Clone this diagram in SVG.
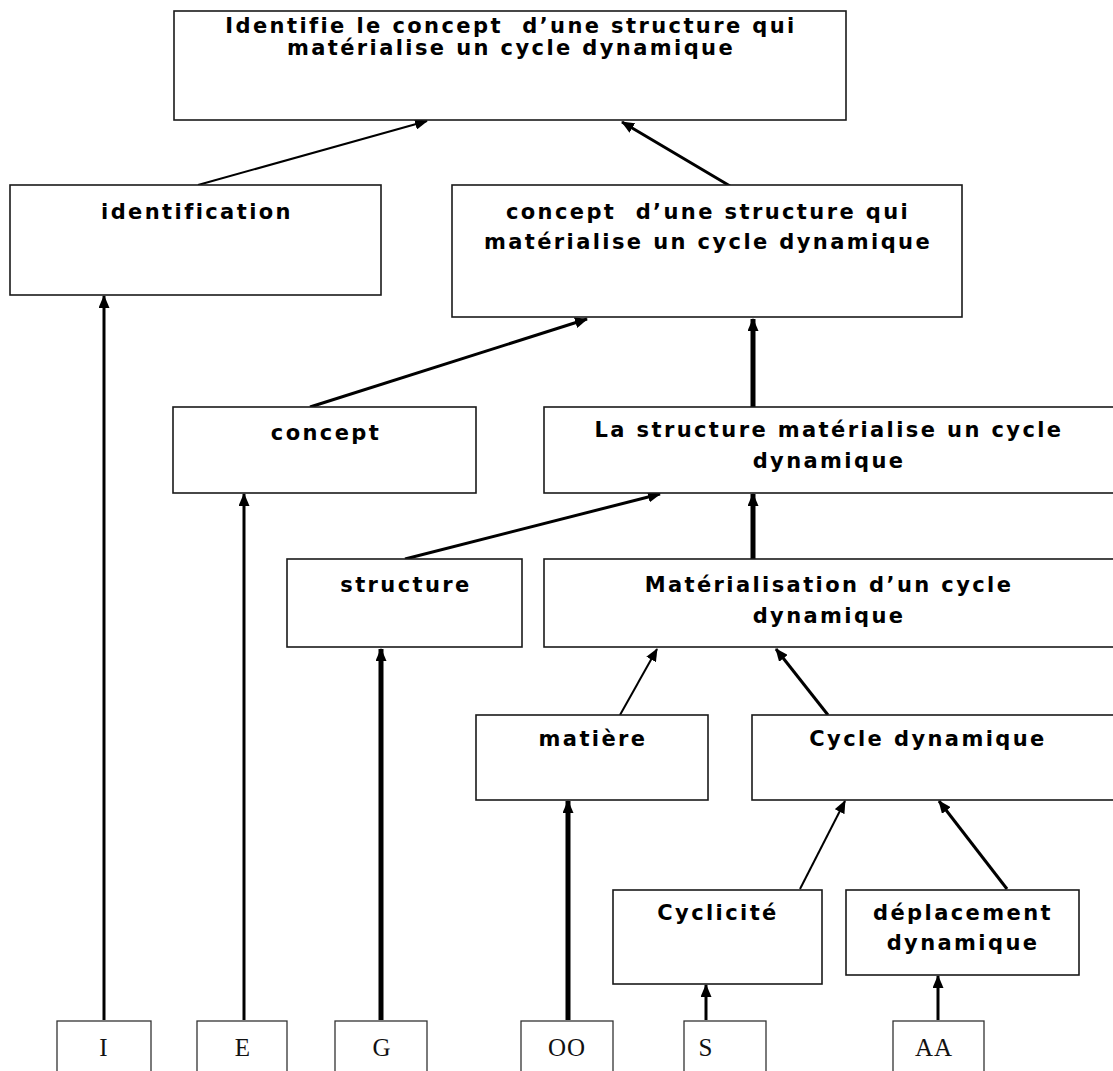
<svg xmlns="http://www.w3.org/2000/svg" width="1113" height="1071" viewBox="0 0 1113 1071">
  <style>
    .box { fill: #fff; stroke: #1a1a1a; stroke-width: 1.6; }
    .leaf { fill: #fff; stroke: #333; stroke-width: 1.3; }
    .t { font-family: "DejaVu Sans", "Liberation Sans", sans-serif; font-weight: bold; font-size: 21px; letter-spacing: 2.4px; fill: #000; text-anchor: middle; white-space: pre; }
    .s { font-family: "Liberation Serif", serif; font-size: 25px; fill: #111; text-anchor: middle; letter-spacing: 1px; }
    .c { stroke: #000; fill: none; marker-end: url(#head); }
    .w2 { stroke-width: 2; }
    .w3 { stroke-width: 3; }
    .w5 { stroke-width: 5; }
  </style>
  <defs>
    <marker id="head" markerUnits="userSpaceOnUse" markerWidth="13" markerHeight="11" refX="12" refY="5.5" orient="auto">
      <path d="M0,0 L13,5.5 L0,11 z" fill="#000"/>
    </marker>
  </defs>
  <rect width="1113" height="1071" fill="#fff"/>

  <!-- connectors -->
  <g id="connectors">
    <line class="c w2" x1="198" y1="185" x2="427" y2="121"/>
    <line class="c w3" x1="730" y1="186" x2="622" y2="122"/>
    <line class="c w3" x1="104" y1="1020" x2="104" y2="296"/>
    <line class="c w3" x1="310" y1="407" x2="587" y2="319"/>
    <line class="c w5" x1="753" y1="407" x2="753" y2="319"/>
    <line class="c w3" x1="244" y1="1020" x2="244" y2="494"/>
    <line class="c w3" x1="405" y1="559" x2="660" y2="494"/>
    <line class="c w5" x1="753" y1="559" x2="753" y2="494"/>
    <line class="c w5" x1="381" y1="1020" x2="381" y2="649"/>
    <line class="c w2" x1="620" y1="715" x2="657" y2="649"/>
    <line class="c w3" x1="828" y1="715" x2="776" y2="649"/>
    <line class="c w5" x1="568" y1="1020" x2="568" y2="801"/>
    <line class="c w2" x1="800" y1="889" x2="845" y2="801"/>
    <line class="c w3" x1="1007" y1="889" x2="939" y2="801"/>
    <line class="c w3" x1="706" y1="1020" x2="706" y2="985"/>
    <line class="c w3" x1="938" y1="1020" x2="938" y2="976"/>
  </g>

  <!-- concept nodes -->
  <g id="n-top">
    <rect class="box" x="174" y="11" width="672" height="109"/>
    <text class="t" x="511" y="33">Identifie le concept  d’une structure qui</text>
    <text class="t" x="511" y="55">matérialise un cycle dynamique</text>
  </g>
  <g id="n-identification">
    <rect class="box" x="10" y="185" width="371" height="110"/>
    <text class="t" x="197" y="219">identification</text>
  </g>
  <g id="n-concept-structure">
    <rect class="box" x="452" y="185" width="510" height="132"/>
    <text class="t" x="708" y="219">concept  d’une structure qui</text>
    <text class="t" x="708" y="249">matérialise un cycle dynamique</text>
  </g>
  <g id="n-concept">
    <rect class="box" x="173" y="407" width="303" height="86"/>
    <text class="t" x="326" y="440">concept</text>
  </g>
  <g id="n-structure-cycle">
    <rect class="box" x="544" y="407" width="575" height="86"/>
    <text class="t" x="829" y="437">La structure matérialise un cycle</text>
    <text class="t" x="829" y="468">dynamique</text>
  </g>
  <g id="n-structure">
    <rect class="box" x="287" y="559" width="235" height="88"/>
    <text class="t" x="406" y="592">structure</text>
  </g>
  <g id="n-materialisation">
    <rect class="box" x="544" y="559" width="575" height="88"/>
    <text class="t" x="829" y="592">Matérialisation d’un cycle</text>
    <text class="t" x="829" y="623">dynamique</text>
  </g>
  <g id="n-matiere">
    <rect class="box" x="476" y="715" width="232" height="85"/>
    <text class="t" x="593" y="746">matière</text>
  </g>
  <g id="n-cycle-dynamique">
    <rect class="box" x="752" y="715" width="367" height="85"/>
    <text class="t" x="928" y="746">Cycle dynamique</text>
  </g>
  <g id="n-cyclicite">
    <rect class="box" x="613" y="890" width="209" height="94"/>
    <text class="t" x="718" y="920">Cyclicité</text>
  </g>
  <g id="n-deplacement">
    <rect class="box" x="846" y="890" width="233" height="85"/>
    <text class="t" x="963" y="920">déplacement</text>
    <text class="t" x="963" y="950">dynamique</text>
  </g>

  <!-- letter leaves -->
  <g id="leaf-I">
    <rect class="leaf" x="57" y="1021" width="94" height="70"/>
    <text class="s" x="104" y="1056">I</text>
  </g>
  <g id="leaf-E">
    <rect class="leaf" x="197" y="1021" width="90" height="70"/>
    <text class="s" x="243" y="1056">E</text>
  </g>
  <g id="leaf-G">
    <rect class="leaf" x="335" y="1021" width="92" height="70"/>
    <text class="s" x="382" y="1056">G</text>
  </g>
  <g id="leaf-OO">
    <rect class="leaf" x="521" y="1021" width="92" height="70"/>
    <text class="s" x="567" y="1056">OO</text>
  </g>
  <g id="leaf-S">
    <rect class="leaf" x="684" y="1021" width="82" height="70"/>
    <text class="s" x="706" y="1056">S</text>
  </g>
  <g id="leaf-AA">
    <rect class="leaf" x="893" y="1021" width="91" height="70"/>
    <text class="s" x="934" y="1056">AA</text>
  </g>
</svg>
